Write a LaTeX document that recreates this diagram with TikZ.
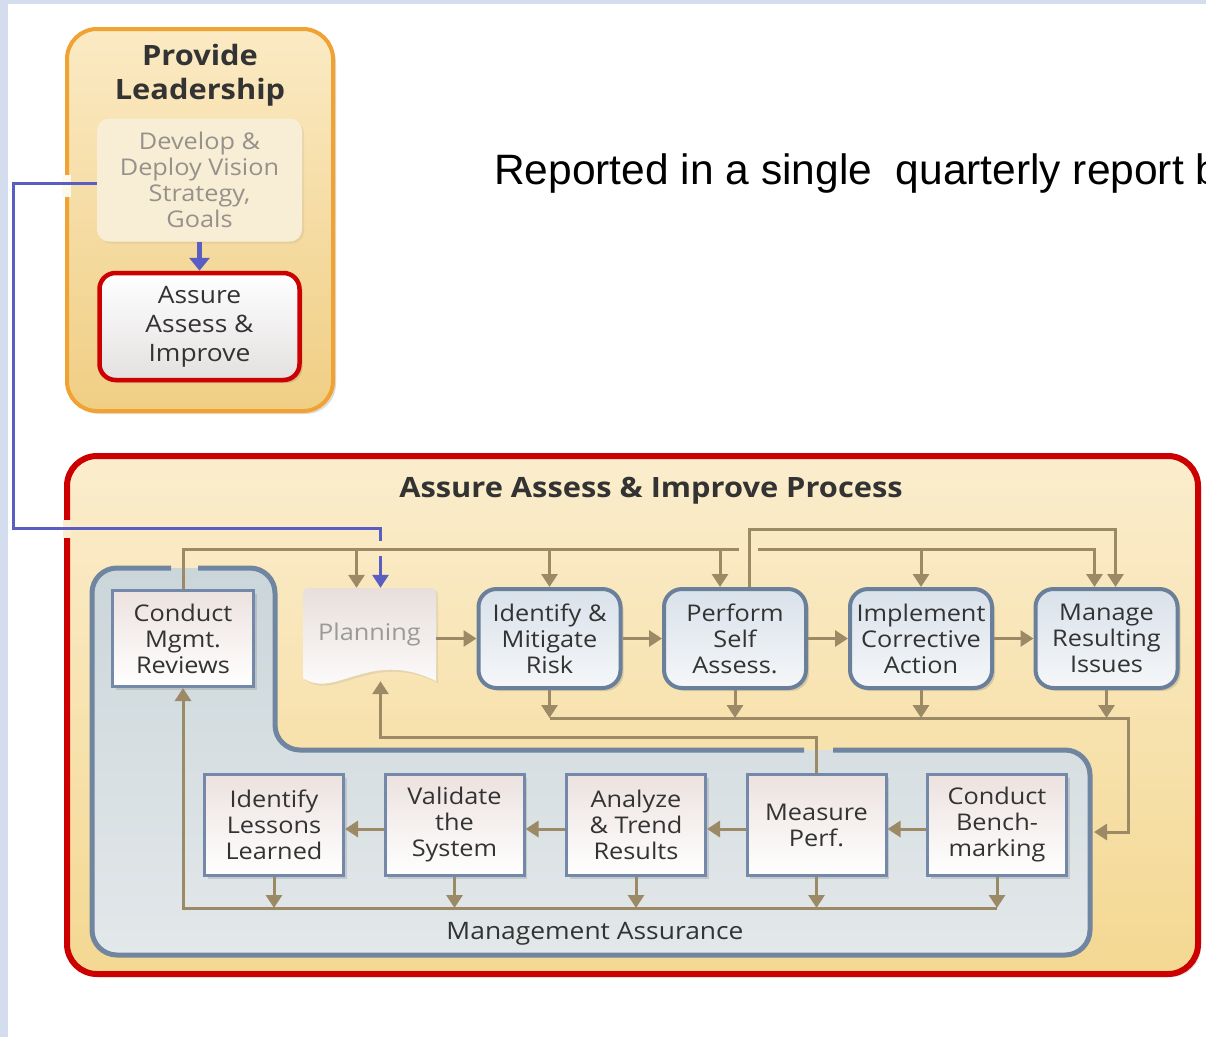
\documentclass[tikz,border=0pt]{standalone}
\usepackage{fontspec}
\newfontfamily\dfont[FakeStretch=1.1]{Open Sans}
\newfontfamily\afont{Liberation Sans}
\usetikzlibrary{arrows.meta,shadows,calc}
\definecolor{bgblue}{HTML}{D3DDEE}
\definecolor{orng}{HTML}{F0A232}
\definecolor{ofillA}{HTML}{FBEAC4}
\definecolor{ofillB}{HTML}{F0CE84}
\definecolor{rred}{HTML}{CC0000}
\definecolor{rfillA}{HTML}{FBEDCD}
\definecolor{rfillB}{HTML}{F4D892}
\definecolor{pnl}{HTML}{6F85A0}
\definecolor{pfillA}{HTML}{CBD6DA}
\definecolor{pfillB}{HTML}{E3E8EA}
\definecolor{tbd}{HTML}{6A809A}
\definecolor{tfillA}{HTML}{D9E1EA}
\definecolor{tfillB}{HTML}{F5F7F9}
\definecolor{bbd}{HTML}{7489AA}
\definecolor{bfillA}{HTML}{ECE2DF}
\definecolor{brn}{HTML}{9C8A67}
\definecolor{blu}{HTML}{5A5EC2}
\definecolor{txt}{HTML}{333333}
\definecolor{fade}{HTML}{96918A}
\definecolor{devfill}{HTML}{F8EDD5}
\definecolor{aaib}{HTML}{E4E0E0}
\definecolor{plt}{HTML}{E8DFDC}
\definecolor{plg}{HTML}{9A9A9A}
\tikzset{
  shd/.style={drop shadow={shadow xshift=3pt, shadow yshift=-3pt, opacity=0.22, fill=black!60}},
  brline/.style={draw=brn, line width=3pt},
  brarrow/.style={brline, -{Triangle[length=13pt,width=16pt]}},
  bluline/.style={draw=blu, line width=3pt},
  boxfont/.style={font=\dfont\fontsize{23}{26}\selectfont},
  topbox/.style={draw=tbd, line width=4pt, rounded corners=18pt, minimum width=142pt, minimum height=99pt, top color=tfillA, bottom color=tfillB, inner sep=0pt, align=center, text=txt, boxfont, shd},
  botbox/.style={draw=bbd, line width=3pt, minimum width=139pt, minimum height=101pt, top color=bfillA, bottom color=white, inner sep=0pt, align=center, text=txt, boxfont, shd},
  titlefont/.style={font=\dfont\bfseries\fontsize{28}{34}\selectfont, text=txt, align=center}
}
\begin{document}
\begin{tikzpicture}[x=1pt,y=-1pt]
\useasboundingbox (0,0) rectangle (1206,1037);
\clip (0,0) rectangle (1206,1037);
\fill[white] (0,0) rectangle (1206,1037);
\fill[bgblue] (0,0) rectangle (1206,4);
\fill[bgblue] (0,0) rectangle (8,1037);

% ---------- Provide Leadership ----------
\node[draw=orng, line width=4pt, rounded corners=30pt, minimum width=266pt, minimum height=382pt, top color=ofillA, bottom color=ofillB, shd] (lead) at (200,220) {};
\fill[white!70!ofillA] (62,175) rectangle (71,197);
\node[titlefont] (ltitle) at (200,75) {Provide\\Leadership};
\node[fill=devfill, rounded corners=12pt, minimum width=205pt, minimum height=123pt, inner sep=0pt, align=center, text=fade, boxfont, drop shadow={shadow xshift=2pt, shadow yshift=-2pt, opacity=0.12}] (dev) at (199.5,180) {Develop \&\\Deploy Vision\\Strategy,\\Goals};
\node[draw=rred, line width=4.5pt, rounded corners=16pt, minimum width=200pt, minimum height=107pt, top color=white, bottom color=aaib, inner sep=0pt, align=center, text=txt, font=\dfont\fontsize{24}{29}\selectfont, shd] (aai) at (199.5,326.5) {Assure\\Assess \&\\Improve};
\draw[draw=blu, line width=5pt, -{Triangle[length=13pt,width=20pt]}] (dev.south) -- (aai.north);

% ---------- Reported text ----------
\node[anchor=base west, font=\afont\fontsize{42.5}{50}\selectfont, inner sep=0pt, text=black] (rep) at (494,184) {Reported in a single\ \ quarterly report b};

% ---------- Process box ----------
\draw[draw=rred, line width=6pt, rounded corners=30pt, top color=rfillA, bottom color=rfillB, shd] (67,456) rectangle (1198,974);
\fill[rfillA] (63,520) rectangle (71,538);
\node[titlefont] (ptitle) at (651,491) {Assure Assess \& Improve Process};

% management assurance panel
\fill[top color=pfillA, bottom color=pfillB, rounded corners=25pt] (92,568) -- (275,568) -- (275,750) -- (1090,750) -- (1090,955) -- (92,955) -- cycle;
\draw[draw=pnl, line width=5pt, rounded corners=25pt] (198,568) -- (275,568) -- (275,750) -- (804,750);
\draw[draw=pnl, line width=5pt, rounded corners=25pt] (833,750) -- (1090,750) -- (1090,955) -- (92,955) -- (92,568) -- (171,568);
\node[font=\dfont\fontsize{24}{28}\selectfont, text=txt] (mas) at (595,934) {Management Assurance};

% planning document shape
\path[top color=plt, bottom color=white, drop shadow={shadow xshift=2pt, shadow yshift=-2pt, opacity=0.15}]
  (303,678) -- (303,598) .. controls (303,588) .. (313,588) -- (426,588) .. controls (436,588) .. (436,598)
  -- (436,681) .. controls (370,648) and (335,700) .. (303,678) -- cycle;
\node[minimum width=133pt, minimum height=93pt, inner sep=0pt, text=plg, boxfont] (plan) at (369.5,634.5) {Planning};

% top row
\node[topbox] (idr) at (549.5,638.5) {Identify \&\\Mitigate\\Risk};
\node[topbox] (psa) at (735,638.5) {Perform\\Self\\Assess.};
\node[topbox] (ica) at (921,638.5) {Implement\\Corrective\\Action};
\node[topbox] (mri) at (1106.5,638.5) {Manage\\Resulting\\Issues};

% management boxes
\node[botbox, minimum height=96pt, minimum width=141pt] (cmr) at (183,638.5) {Conduct\\Mgmt.\\Reviews};
\node[botbox] (ill) at (274,825) {Identify\\Lessons\\Learned};
\node[botbox] (vts) at (454.5,825) {Validate\\the\\System};
\node[botbox] (atr) at (636,825) {Analyze\\\& Trend\\Results};
\node[botbox] (mpf) at (816.5,825) {Measure\\Perf.};
\node[botbox] (cbm) at (997,825) {Conduct\\Bench-\\marking};

% ---------- connectors ----------
% bus 1 (left part)
\coordinate (b1E) at (739,549);
\draw[brline] (cmr.north) |- (b1E);
\coordinate (plb) at ($(plan.north)+(-13,0)$);
\draw[brarrow] (plb |- b1E) -- (plb);
\draw[brarrow] (idr.north |- b1E) -- (idr.north);
\coordinate (psl) at ($(psa.north)+(-15,0)$);
\draw[brarrow] (psl |- b1E) -- (psl);
% bus 1 (right part)
\coordinate (b1M) at (758,549);
\coordinate (mrl) at ($(mri.north)+(-12,0)$);
\draw[brarrow] (b1M) -| (mrl);
\draw[brarrow] (ica.north |- b1M) -- (ica.north);
% bus 2
\coordinate (b2) at (0,529);
\coordinate (psr) at ($(psa.north)+(14,0)$);
\coordinate (mrr) at ($(mri.north)+(9,0)$);
\draw[brarrow] (psr) |- (mrr |- b2) -- (mrr);
% bus 3
\coordinate (b3) at (0,718);
\coordinate (b3R) at (1128,718);
\coordinate (pin) at (1094,832);
\foreach \n in {idr,psa,ica,mri} \draw[brarrow] (\n.south) -- (\n.south |- b3);
\draw[brarrow] (idr.south |- b3) -- (b3R) |- (pin);
% feedback to planning
\coordinate (fb) at (380.5,737);
\draw[brarrow] (mpf.north) |- (fb) -- ([xshift=11pt]plan.south);
% top row flow
\draw[brarrow] (plan.east |- idr.west) -- (idr.west);
\draw[brarrow] (idr.east) -- (psa.west);
\draw[brarrow] (psa.east) -- (ica.west);
\draw[brarrow] (ica.east) -- (mri.west);
% bottom row flow
\draw[brarrow] ([yshift=-4pt]cbm.west) -- ([yshift=-4pt]mpf.east);
\draw[brarrow] ([yshift=-4pt]mpf.west) -- ([yshift=-4pt]atr.east);
\draw[brarrow] ([yshift=-4pt]atr.west) -- ([yshift=-4pt]vts.east);
\draw[brarrow] ([yshift=-4pt]vts.west) -- ([yshift=-4pt]ill.east);
% bus 4
\coordinate (b4) at (0,908);
\foreach \n in {ill,vts,atr,mpf,cbm} \draw[brarrow] (\n.south) -- (\n.south |- b4);
\draw[brarrow] (cbm.south |- b4) -| (cmr.south);

% blue connector
\coordinate (bc) at (13,528);
\coordinate (bga) at (380.5,541);
\coordinate (bgb) at (380.5,556);
\draw[bluline] ([yshift=-3pt]dev.west) -| (bc) -| (bga);
\draw[bluline, -{Triangle[length=13pt,width=16pt]}] (bgb) -- ([xshift=11pt]plan.north);
\end{tikzpicture}
\end{document}
